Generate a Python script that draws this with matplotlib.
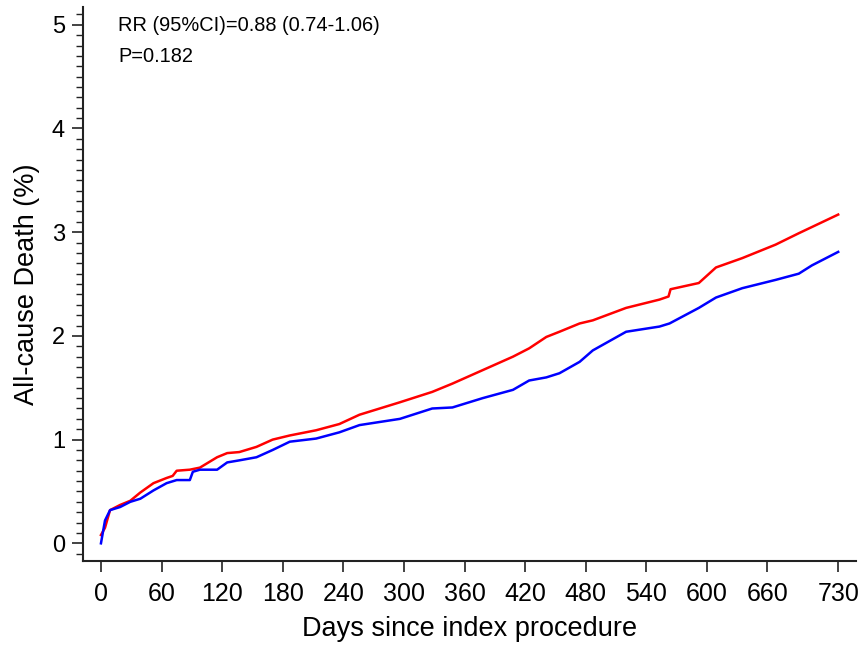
import matplotlib.pyplot as plt
from matplotlib.ticker import MultipleLocator

plt.rcParams['font.family'] = ['Liberation Sans', 'DejaVu Sans']

# cumulative all-cause death (%)
red_days = [0, 4, 9, 19, 29, 39, 52, 65, 71, 75, 88, 98, 115, 125, 137, 154, 170,
            187, 213, 236, 256, 296, 328, 348, 378, 408, 424, 441, 454, 474, 487,
            520, 553, 562, 564, 592, 609, 635, 668, 691, 704, 730]
red_vals = [0.08, 0.15, 0.32, 0.37, 0.41, 0.49, 0.58, 0.63, 0.65, 0.70, 0.71, 0.73, 0.83, 0.87,
            0.88, 0.93, 1.00, 1.04, 1.09, 1.15, 1.24, 1.36, 1.46, 1.54, 1.67, 1.80,
            1.88, 1.99, 2.04, 2.12, 2.15, 2.27, 2.35, 2.38, 2.45, 2.51, 2.66, 2.75,
            2.88, 2.99, 3.05, 3.17]

blue_days = [0, 4, 9, 19, 29, 39, 52, 65, 75, 88, 91, 98, 115, 125, 137, 154, 170,
             187, 213, 236, 256, 296, 328, 348, 378, 408, 424, 441, 454, 474, 487,
             520, 553, 563, 592, 609, 635, 668, 691, 704, 730]
blue_vals = [0.0, 0.22, 0.32, 0.35, 0.40, 0.43, 0.51, 0.58, 0.61, 0.61, 0.69, 0.71, 0.71, 0.78,
             0.80, 0.83, 0.90, 0.98, 1.01, 1.07, 1.14, 1.20, 1.30, 1.31, 1.40, 1.48,
             1.57, 1.60, 1.64, 1.75, 1.86, 2.04, 2.09, 2.12, 2.27, 2.37, 2.46, 2.54,
             2.60, 2.68, 2.81]

xticks = [0, 60, 120, 180, 240, 300, 360, 420, 480, 540, 600, 660, 730]
yticks = [0, 1, 2, 3, 4, 5]

fig = plt.figure(figsize=(8.68, 6.5), dpi=100)
ax = fig.add_axes([0.0956, 0.137, 0.891, 0.852])

ax.plot(red_days, red_vals, color='#ff0000', lw=1.8)
ax.plot(blue_days, blue_vals, color='#0000ff', lw=1.8)

ax.set_xlim(-17.8, 748)
ax.set_ylim(-0.17, 5.17)
ax.set_xticks(xticks)
ax.set_yticks(yticks)
ax.yaxis.set_minor_locator(MultipleLocator(0.1))

for s in ['top', 'right']:
    ax.spines[s].set_visible(False)
for s in ['left', 'bottom']:
    ax.spines[s].set_linewidth(1.5)
    ax.spines[s].set_color('#222222')

ax.tick_params(axis='x', which='major', length=8, width=1.2, pad=7, labelsize=18, color='#222222')
ax.tick_params(axis='y', which='major', length=8, width=1.2, pad=5, labelsize=17, color='#222222')
ax.tick_params(axis='y', which='minor', length=5, width=1.0, color='#222222')

ax.set_xlabel('Days since index procedure', fontsize=19.5)
ax.set_ylabel('All-cause Death (%)', fontsize=19.5)
ax.xaxis.set_label_coords(0.5, -0.10)
ax.yaxis.set_label_coords(-0.056, 0.5)

ax.text(16.8, 4.99, 'RR (95%CI)=0.88 (0.74-1.06)', fontsize=14.4, va='center', ha='left')
ax.text(16.8, 4.69, 'P=0.182', fontsize=14.4, va='center', ha='left')

fig.savefig('out.png', dpi=100)
